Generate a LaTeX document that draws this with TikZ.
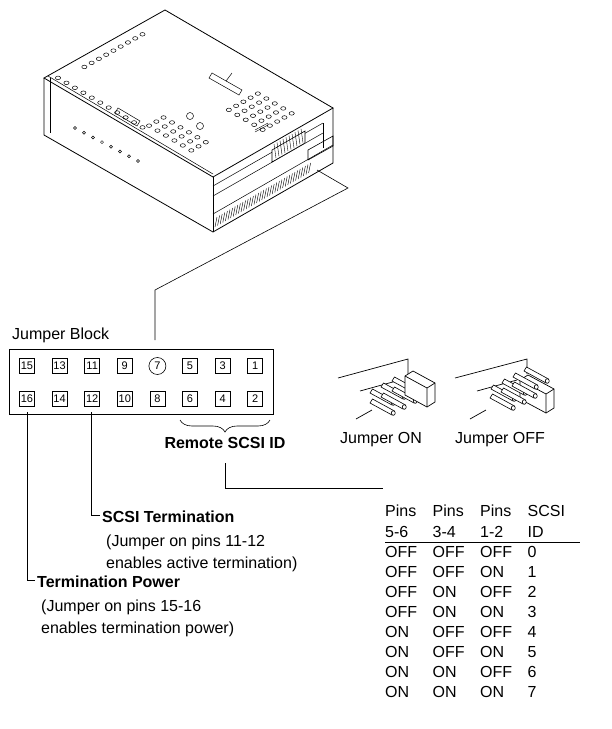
\documentclass[tikz,border=0pt]{standalone}
\usepackage{fontspec}
\setmainfont{Liberation Sans}
\usetikzlibrary{calc,decorations.pathreplacing}

\tikzset{
  pin/.style={draw,line width=0.6pt,minimum size=15pt,inner sep=0pt,font=\fontsize{11}{11}\selectfont},
  lbl/.style={font=\fontsize{16}{19}\selectfont,inner sep=0pt,anchor=base west},
  bold/.style={lbl,font=\fontsize{16}{19}\selectfont\bfseries},
  lead/.style={line width=0.6pt},
  hole/.style={line width=0.5pt},
  peg/.style={line width=0.6pt,fill=white},
}
\newcommand{\tophole}[2]{%
  \pgfmathsetmacro\hx{44+121*#1+169*#2}\pgfmathsetmacro\hy{78-68*#1+99*#2}%
  \draw[hole] (\hx,\hy) ellipse (2.6 and 1.8);}
\newcommand{\jpeg}[2]{%
  \draw[peg] (#1,#2) -- ++(-22,-12) -- ++(2.5,-4) -- ++(22,12) -- cycle;
  \draw[peg] (#1+1.25,#2-2) ellipse (2 and 2.3);}

\begin{document}
\begin{tikzpicture}[x=1pt,y=-1pt]
\useasboundingbox (0,0) rectangle (612,729);

% drive
\coordinate (A) at (44,78);
\coordinate (B) at (165,10);
\coordinate (C) at (333,108);
\coordinate (D) at (213,177);
\draw[line width=0.8pt] (A) -- (B) -- (C) -- (D) -- cycle;
\draw[line width=0.8pt] (A) -- ++(0,57) -- ($(D)+(0,55)$) -- ($(C)+(0,55)$) -- (C);
\draw[line width=0.8pt] (D) -- ++(0,55);
\draw[line width=0.5pt] ($(A)+(6,0)$) -- ++(0,55);
\draw[line width=0.5pt] ($(A)+(4,-2)$) -- ($(D)+(0,-3)$);
% front face
\draw[line width=0.5pt] ($(D)+(0,9)$) -- ($(C)+(-10,15)$);
\draw[line width=0.5pt] ($(D)+(0,19)$) -- ($(C)+(-10,25)$);
\draw[line width=0.5pt] ($(C)+(-10,15)$) -- ++(0,25);
\draw[line width=0.5pt] ($(D)+(0,37)$) -- ($(C)+(0,37)$);
\foreach \i in {0,...,36}
  \draw[line width=0.4pt] ($(D)+(2+2.6*\i,50-1.5*\i)$) -- ++(2,-10);
% rear connectors
\draw[line width=0.6pt,fill=white] (272,150) -- (305,131) -- (305,143) -- (272,162) -- cycle;
\foreach \i in {0,...,9}
  \draw[line width=0.4pt] (276+3*\i,158-1.7*\i) -- ++(-2,-14);
\draw[line width=0.6pt] (308,150) -- (333,136) -- (333,146) -- (308,160) -- cycle;
% top face features
\draw[hole] (118,108) -- (140,121) -- (137,126) -- (115,113) -- cycle;
\draw[hole] (212,73) -- (242,90) -- (239,95) -- (209,78) -- cycle;
\draw[hole] (226,81) -- (232,73);
\draw[hole] (190,116) circle (3.5) (200,126) circle (3.5);
\foreach \k in {0,...,10} { \pgfmathsetmacro\vv{0.04+0.05*\k} \tophole{0.06}{\vv} }
\foreach \k in {0,...,8} { \pgfmathsetmacro\uu{0.25+0.06*\k} \tophole{\uu}{0.06} }
\foreach \a in {0,1,2} \foreach \b in {0,...,5} {
  \pgfmathsetmacro\uu{0.1+0.06*\a}\pgfmathsetmacro\vv{0.55+0.05*\b} \tophole{\uu}{\vv} }
\foreach \a in {0,...,4} \foreach \b in {0,...,4} {
  \pgfmathsetmacro\uu{0.55+0.06*\a}\pgfmathsetmacro\vv{0.7+0.05*\b} \tophole{\uu}{\vv} }
\foreach \i in {0,...,7} \draw[hole] (75+9*\i,128+4.7*\i) circle (1.5);
\draw[line width=0.4pt] (255,130) -- (268,123) (255,132) -- (268,125);

% leader from drive
\coordinate (dL) at (317,170);
\coordinate (dM) at (348,188);
\coordinate (dN) at (155,290);
\coordinate (dP) at (155,340);
\draw[lead] (dL) -- (dM) -- (dN) -- (dP);

% jumper block
\node[lbl] (jbt) at (12,339) {Jumper Block};
\draw[line width=1pt] (9,349) rectangle (273,414);
\foreach \n [count=\k from 0] in {15,13,11,9,7,5,3,1}
  \node[pin] (p\n) at (27+32.6*\k,366) {\n};
\foreach \n [count=\k from 0] in {16,14,12,10,8,6,4,2}
  \node[pin] (p\n) at (27+32.6*\k,399) {\n};
\node[draw=none,fill=white,minimum size=17pt] at (p7) {};
\node[draw,circle,line width=0.6pt,minimum size=17pt,inner sep=0pt,font=\fontsize{11}{11}\selectfont] at (p7) {7};

% remote SCSI ID
\draw[lead,decorate,decoration={brace,amplitude=12pt,mirror}] (180,420) -- (270,420);
\node[bold,anchor=base] (rid) at (225,448) {Remote SCSI ID};
\coordinate (rA) at (225,463);
\coordinate (rB) at (225,488);
\coordinate (rC) at (383,488);
\draw[lead] (rA) -- (rB) -- (rC);

% termination
\coordinate (tA) at (91,412);
\coordinate (tB) at (91,515);
\draw[lead] (tA) -- (tB) -- ++(9,0);
\node[bold] (sterm) at (102,522) {SCSI Termination};
\node[lbl] at (106,546) {(Jumper on pins 11-12};
\node[lbl] at (106,568) {enables active termination)};
\coordinate (pA) at (27,412);
\coordinate (pB) at (27,580);
\draw[lead] (pA) -- (pB) -- ++(8,0);
\node[bold] (tpow) at (37,587) {Termination Power};
\node[lbl] at (41,611) {(Jumper on pins 15-16};
\node[lbl] at (41,633) {enables termination power)};

% table
\foreach \t [count=\k from 0] in {Pins,Pins,Pins,SCSI}
  \node[lbl] at (385+47.5*\k,516) {\t};
\foreach \t [count=\k from 0] in {5-6,3-4,1-2,ID}
  \node[lbl] at (385+47.5*\k,537) {\t};
\draw[line width=0.8pt] (385,542) -- (580,542);
\foreach \a/\b/\c [count=\r from 0] in {OFF/OFF/OFF,OFF/OFF/ON,OFF/ON/OFF,OFF/ON/ON,ON/OFF/OFF,ON/OFF/ON,ON/ON/OFF,ON/ON/ON}{
  \node[lbl] at (385,557+20*\r) {\a};
  \node[lbl] at (432.5,557+20*\r) {\b};
  \node[lbl] at (480,557+20*\r) {\c};
  \node[lbl] at (527.5,557+20*\r) {\r};
}

% jumper ON
\draw[line width=0.7pt] (338,378) -- (408,359) -- (408,374);
\draw[line width=0.7pt] (360,391) -- (400,380);
\draw[line width=0.7pt] (356,419) -- (372,410);
\foreach \i in {0,1,2} { \jpeg{414-11*\i}{393+6*\i} }
\foreach \i in {0,1,2} { \jpeg{414-11*\i}{403+6*\i} }
\draw[line width=0.7pt,fill=white] (405,376) -- (413,371) -- (435,383) -- (435,402) -- (427,407) -- (405,395) -- cycle;
\draw[line width=0.7pt] (405,376) -- (427,388) -- (435,383) (427,388) -- (427,407);
\node[lbl] at (340,443) {Jumper ON};

% jumper OFF
\draw[line width=0.7pt] (455,378) -- (527,359) -- (527,374);
\draw[line width=0.7pt] (477,391) -- (517,380);
\draw[line width=0.7pt] (470,419) -- (486,410);
\draw[line width=0.7pt,fill=white] (520,380) -- (528,375) -- (554,389) -- (554,408) -- (546,413) -- (520,399) -- cycle;
\draw[line width=0.7pt] (520,380) -- (546,394) -- (554,389) (546,394) -- (546,413);
\foreach \i in {0,1,2,3} { \jpeg{546-11*\i}{383+6*\i} }
\foreach \i in {0,1,2} { \jpeg{534-11*\i}{398+6*\i} }
\node[lbl] at (455,443) {Jumper OFF};
\end{tikzpicture}
\end{document}
